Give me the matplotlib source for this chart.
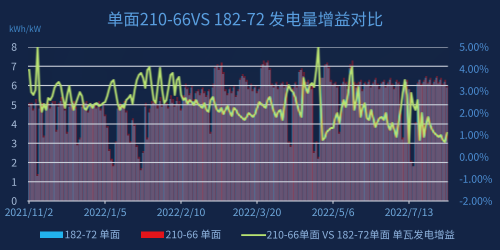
import matplotlib
matplotlib.use("Agg")
import numpy as np
from matplotlib import pyplot as plt
from matplotlib.patches import Patch
from matplotlib.lines import Line2D

plt.rcParams['font.family'] = ['Noto Sans CJK SC', 'DejaVu Sans']

### data (one value per day shown on the category axis)
tick_labels = ['2021/11/2', '2022/1/5', '2022/2/10', '2022/3/20', '2022/5/6', '2022/7/13']
tick_index = [0, 36, 72, 108, 144, 180]

# 182-72 单面, kWh/kW
yield_182 = [
    4.9, 5.0, 4.7, 5.1, 1.3, 4.8, 5.0, 3.3, 4.9, 5.0,
    4.8, 5.1, 5.0, 3.6, 4.9, 5.2, 5.0, 4.7, 3.5, 4.9,
    5.0, 5.1, 4.8, 2.9, 3.2, 4.9, 5.0, 5.1, 4.6, 5.0,
    4.9, 5.0, 4.8, 5.1, 4.7, 5.0, 4.4, 3.8, 2.6, 2.1,
    1.8, 3.0, 4.8, 5.0, 4.9, 5.1, 4.6, 3.4, 3.0, 4.2,
    3.9, 2.8, 2.2, 1.6, 2.5, 4.9, 3.2, 4.6, 5.0, 5.1,
    5.0, 4.8, 5.2, 4.9, 5.1, 5.0, 4.8, 5.3, 5.1, 4.9,
    5.2, 5.0, 4.7, 5.4, 5.9, 5.8, 5.5, 5.9, 5.2, 5.6,
    5.7, 5.5, 5.8, 5.6, 5.4, 5.7, 3.5, 5.9, 6.9, 7.0,
    6.8, 7.0, 6.6, 5.7, 5.5, 5.8, 5.6, 5.9, 5.4, 5.7,
    6.3, 6.5, 6.4, 6.2, 5.8, 6.0, 5.7, 5.9, 5.6, 5.8,
    6.9, 7.1, 7.0, 7.2, 6.8, 6.0, 5.9, 6.1, 5.8, 6.0,
    6.1, 5.9, 6.0, 3.0, 2.8, 5.8, 6.1, 5.9, 6.7, 6.8,
    6.5, 6.0, 6.2, 5.8, 5.8, 2.5, 3.0, 2.2, 6.2, 6.4,
    7.0, 7.1, 6.9, 6.2, 6.0, 6.1, 5.9, 3.5, 6.0, 6.2,
    6.1, 5.8, 6.9, 7.0, 6.1, 5.9, 6.0, 6.2, 5.7, 6.1,
    6.0, 6.2, 5.9, 6.1, 6.3, 6.0, 5.8, 6.1, 6.2, 5.9,
    6.1, 6.3, 6.0, 5.8, 6.2, 6.1, 4.5, 3.2, 5.9, 6.2,
    5.8, 2.0, 1.8, 4.0, 6.1, 6.3, 6.0, 6.2, 6.4, 6.1,
    6.3, 6.0, 6.2, 6.4, 6.1, 6.3, 6.0, 6.2, 5.9,
]

# 210-66 单面, kWh/kW
yield_210 = [
    5.1, 5.1, 4.8, 5.3, 1.4, 4.9, 5.1, 3.4, 5.0, 5.1,
    4.9, 5.2, 5.2, 3.7, 5.1, 5.4, 5.1, 4.8, 3.6, 5.1,
    5.1, 5.2, 4.9, 3.0, 3.3, 5.0, 5.1, 5.2, 4.7, 5.1,
    5.0, 5.1, 4.9, 5.2, 4.8, 5.1, 4.5, 3.9, 2.7, 2.2,
    1.9, 3.1, 4.9, 5.1, 5.0, 5.2, 4.7, 3.5, 3.1, 4.3,
    4.0, 2.9, 2.3, 1.7, 2.6, 5.1, 3.3, 4.8, 5.2, 5.2,
    5.1, 5.0, 5.4, 5.0, 5.2, 5.1, 4.9, 5.5, 5.3, 5.0,
    5.4, 5.2, 4.8, 5.5, 6.1, 5.9, 5.6, 6.0, 5.3, 5.7,
    5.8, 5.6, 5.9, 5.7, 5.5, 5.8, 3.6, 6.1, 7.0, 7.1,
    6.9, 7.2, 6.7, 5.8, 5.6, 5.9, 5.7, 6.0, 5.5, 5.8,
    6.4, 6.6, 6.5, 6.3, 5.9, 6.1, 5.8, 6.0, 5.7, 5.9,
    7.1, 7.3, 7.2, 7.3, 6.9, 6.1, 6.0, 6.2, 5.9, 6.1,
    6.2, 6.0, 6.2, 3.1, 2.9, 5.9, 6.2, 6.0, 6.8, 6.9,
    6.7, 6.2, 6.3, 6.0, 6.0, 2.6, 3.1, 2.3, 6.4, 6.4,
    7.1, 7.2, 7.0, 6.3, 6.1, 6.2, 6.0, 3.6, 6.1, 6.4,
    6.2, 6.0, 7.1, 7.3, 6.2, 6.1, 6.2, 6.3, 5.8, 6.2,
    6.1, 6.3, 6.0, 6.2, 6.4, 6.1, 5.9, 6.2, 6.3, 6.0,
    6.2, 6.4, 6.1, 5.9, 6.3, 6.2, 4.6, 3.3, 6.1, 6.3,
    5.8, 2.1, 1.8, 4.1, 6.2, 6.3, 6.1, 6.3, 6.5, 6.2,
    6.4, 6.1, 6.3, 6.5, 6.2, 6.4, 6.1, 6.3, 6.0,
]

# 210-66单面 VS 182-72单面 单瓦发电增益, %
gain_pct = [
    3.95, 2.95, 2.82, 3.05, 5.00, 2.59, 2.05, 2.41, 2.14, 2.68,
    2.59, 2.77, 3.14, 3.32, 3.41, 3.23, 2.68, 2.23, 2.82, 3.23,
    2.59, 2.14, 2.41, 2.68, 2.95, 2.77, 2.23, 2.14, 2.32, 2.41,
    2.23, 2.41, 2.45, 2.32, 2.36, 2.45, 2.50, 2.77, 3.14, 3.41,
    3.50, 2.95, 2.41, 2.14, 2.36, 2.23, 2.59, 2.68, 2.82, 2.41,
    3.05, 3.50, 3.73, 3.82, 3.59, 3.14, 3.95, 4.09, 3.27, 2.59,
    2.45, 3.27, 4.05, 3.05, 2.45, 2.59, 3.14, 3.73, 3.82, 2.82,
    3.50, 3.64, 2.82, 2.59, 2.68, 2.41, 2.59, 2.50, 2.36, 2.59,
    2.41, 2.32, 2.23, 2.45, 2.14, 2.05, 2.59, 2.73, 2.41, 2.14,
    2.05, 2.23, 1.95, 2.14, 2.32, 2.05, 1.86, 2.23, 2.14, 1.95,
    1.86, 1.77, 1.68, 1.82, 2.00, 1.91, 1.82, 1.95, 2.23, 2.50,
    2.41, 2.32, 2.23, 2.59, 2.73, 2.36, 2.05, 1.82, 2.05, 2.14,
    1.68, 2.36, 2.91, 3.27, 3.05, 2.95, 2.73, 2.36, 2.05, 1.82,
    3.59, 3.14, 2.91, 3.27, 3.36, 3.18, 3.95, 5.00, 2.59, 0.77,
    0.86, 1.14, 1.23, 1.32, 1.32, 1.77, 2.00, 1.55, 2.23, 2.59,
    2.27, 2.82, 3.73, 4.09, 2.14, 2.59, 3.18, 1.82, 2.23, 2.45,
    1.77, 1.68, 2.14, 1.77, 1.36, 1.59, 1.77, 1.82, 1.68, 2.00,
    1.45, 1.23, 1.55, 1.23, 0.91, 1.55, 2.14, 2.91, 3.50, 2.82,
    0.64, 2.91, 2.36, 2.14, 2.59, 0.77, 2.00, 0.91, 1.45, 1.82,
    1.45, 1.23, 1.09, 1.00, 0.91, 1.00, 0.77, 0.68, 1.09,
]

BG = '#142545'
CYAN = '#22b4ee'
RED = '#e3161b'
GREEN = '#b9e372'
LABEL = '#6fa8dc'
GRID = '#c9ced9'
SS = 4      # draw big, then average down
BLUR = 8    # horizontal smear (big pixels) inside the plot so the thin bars mix like the original


def main():
    n = len(yield_182)
    x = np.arange(n)

    fig = plt.figure(figsize=(5, 2.5), dpi=100 * SS, facecolor=BG)
    ax = fig.add_axes([0.056, 0.196, 0.84, 0.616])
    ax.set_facecolor(BG)

    w = 0.36
    ax.bar(x - w / 2, yield_182, width=w, color=CYAN, linewidth=0, zorder=2)
    ax.bar(x + w / 2, yield_210, width=w, color=RED, linewidth=0, zorder=2)

    ax.set_xlim(-0.5, n - 0.5)
    ax.set_ylim(0, 8)
    ax.set_yticks(range(0, 9))
    for v in range(1, 9):
        ax.axhline(v, color=GRID, lw=0.8, zorder=3)
    ax.set_xticks(tick_index)
    ax.set_xticklabels(tick_labels)
    ax.tick_params(axis='x', colors=GRID, labelcolor=LABEL, labelsize=7.5, length=2, pad=3)
    ax.tick_params(axis='y', length=0, labelcolor='#a9bedb', labelsize=7.5, pad=8)
    for side in ['top', 'right', 'left']:
        ax.spines[side].set_visible(False)
    ax.spines['bottom'].set_color(GRID)
    ax.spines['bottom'].set_zorder(3)

    ax2 = ax.twinx()
    ax2.plot(x, gain_pct, color=GREEN, lw=1.4, zorder=5)
    ax2.set_ylim(-2, 5)
    ax2.set_yticks(range(-2, 6))
    ax2.set_yticklabels(['%.2f%%' % v for v in range(-2, 6)])
    ax2.tick_params(axis='y', length=0, labelcolor='#4d8fd6', labelsize=7.5, pad=8)
    for side in ax2.spines:
        ax2.spines[side].set_visible(False)

    fig.text(0.49, 0.918, '单面210-66VS 182-72 发电量增益对比', color='#5a9fe0',
             fontsize=11.8, ha='center', va='center')
    fig.text(0.018, 0.882, 'kWh/kW', color='#3f86c8', fontsize=6, ha='left', va='center')

    handles = [
        Patch(facecolor=CYAN, edgecolor='none'),
        Patch(facecolor=RED, edgecolor='none'),
        Line2D([0], [0], color=GREEN, lw=1.3),
    ]
    names = ['182-72 单面', '210-66 单面', '210-66单面 VS 182-72单面 单瓦发电增益']
    fig.legend(handles, names, loc='center', bbox_to_anchor=(0.495, 0.058), ncol=3,
               frameon=False, fontsize=7.5, handlelength=2.2, handleheight=0.6,
               handletextpad=0.15, columnspacing=2.0, labelcolor='#8fb4e0')

    fig.canvas.draw()
    big = np.asarray(fig.canvas.buffer_rgba()).astype(float) / 255.0
    H = big.shape[0]

    ### ### ### smear the plot area sideways ### ### ###
    bb = ax.get_window_extent()
    r0, r1 = int(H - bb.y1) - 2, int(H - bb.y0) - 1
    c0, c1 = int(bb.x0), int(bb.x1) + 1
    region = big[r0:r1, c0:c1]
    pad = np.pad(region, ((0, 0), (BLUR // 2, BLUR - BLUR // 2), (0, 0)), mode='edge')
    cs = np.cumsum(pad, axis=1)
    cs = np.concatenate([np.zeros_like(cs[:, :1]), cs], axis=1)
    big[r0:r1, c0:c1] = (cs[:, BLUR:BLUR + region.shape[1]] - cs[:, :region.shape[1]]) / BLUR

    h, wd = H // SS, big.shape[1] // SS
    small = big[:h * SS, :wd * SS].reshape(h, SS, wd, SS, 4).mean(axis=(1, 3))
    plt.imsave('out.png', np.clip(small, 0, 1))


if __name__ == "__main__":
    main()
